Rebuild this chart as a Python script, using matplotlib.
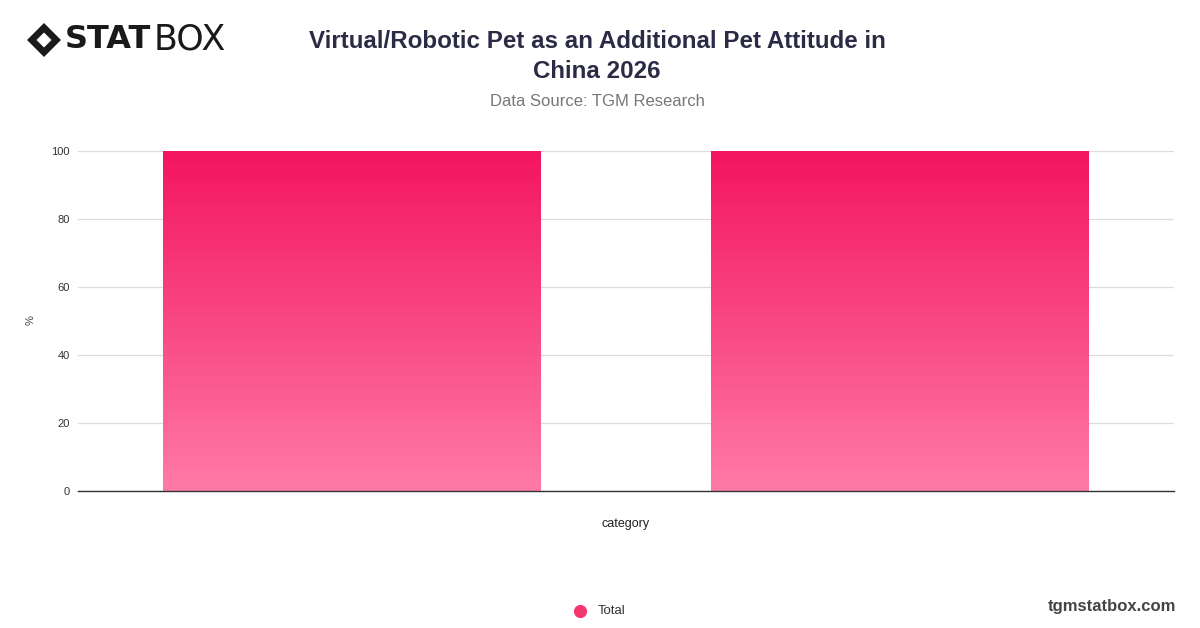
import matplotlib
matplotlib.use("Agg")
import matplotlib.pyplot as plt
import numpy as np
from matplotlib.patches import Polygon
from matplotlib.lines import Line2D
from matplotlib.colors import LinearSegmentedColormap

categories = ["Yes", "No"]
values = [100, 100]
series_name = "Total"
y_ticks = [0, 20, 40, 60, 80, 100]

plt.rcParams['font.family'] = ['Liberation Sans', 'DejaVu Sans']

fig = plt.figure(figsize=(12, 6.28), dpi=100)
ax = fig.add_axes([0.065, 0.2182, 0.913, 0.5414])

x = np.arange(len(categories))
bars = ax.bar(x, values, width=0.69, color='none', edgecolor='none', zorder=2)

# vertical gradient inside each bar
cmap = LinearSegmentedColormap.from_list("pink", ["#ff7aa8", "#f3155f"])
grad = np.linspace(0, 1, 256).reshape(-1, 1)
for b in bars:
    x0, y0 = b.get_x(), b.get_y()
    w, h = b.get_width(), b.get_height()
    im = ax.imshow(grad, cmap=cmap, origin='lower', aspect='auto',
                   extent=[x0, x0 + w, y0, y0 + h], zorder=2)
    im.set_clip_path(b)

ax.set_xlim(-0.5, len(categories) - 0.5)
ax.set_ylim(0, 100)
ax.set_yticks(y_ticks)
ax.set_xticks(x)
ax.set_xticklabels([])
ax.tick_params(axis='x', length=0)
ax.tick_params(axis='y', length=0, labelsize=8, colors='#333333', pad=6)
ax.grid(axis='y', color='#dddddd', linewidth=0.9, zorder=0)
ax.set_axisbelow(True)
for s in ['top', 'right', 'left']:
    ax.spines[s].set_visible(False)
ax.spines['bottom'].set_color('#333333')
ax.spines['bottom'].set_linewidth(1.0)
ax.spines['bottom'].set_zorder(3)
ax.set_xlabel("category", fontsize=9, color='#222222', labelpad=16)
ax.set_ylabel("%", fontsize=8, color='#444444')
ax.yaxis.set_label_coords(-(78 - 36) / 1096, (491 - 320) / 340)

# titles
fig.text(0.4975, 1 - 41 / 628, "Virtual/Robotic Pet as an Additional Pet Attitude in",
         ha='center', va='center', fontsize=17.4, fontweight='bold', color='#2b2b45')
fig.text(0.4975, 1 - 72 / 628, "China 2026",
         ha='center', va='center', fontsize=17.4, fontweight='bold', color='#2b2b45')
fig.text(0.4975, 1 - 102 / 628, "Data Source: TGM Research",
         ha='center', va='center', fontsize=12, color='#777777')

# logo
cx, cy = 44 / 1200, 1 - 40 / 628
dx, dy = 17 / 1200, 17 / 628
fig.patches.append(Polygon([[cx - dx, cy], [cx, cy + dy], [cx + dx, cy], [cx, cy - dy]],
                           closed=True, transform=fig.transFigure, facecolor='#1a1a1a'))
ix, iy = 9 / 1200, 9 / 628
fig.patches.append(Polygon([[cx - ix, cy], [cx, cy + iy], [cx + ix, cy], [cx, cy - iy]],
                           closed=True, transform=fig.transFigure, facecolor='white',
                           edgecolor='#1a1a1a', linewidth=1.5))
fig.text(65 / 1200, cy, "STAT", ha='left', va='center', fontsize=23,
         fontweight='heavy', color='#1a1a1a', family='DejaVu Sans')
fig.text(154 / 1200, cy, "BOX", ha='left', va='center', fontsize=25,
         color='#1a1a1a', family='DejaVu Sans')

# legend
fig.add_artist(Line2D([580 / 1200], [1 - 611 / 628], transform=fig.transFigure,
                      marker='o', markersize=9.5, markerfacecolor='#f5386f',
                      markeredgecolor='none', linestyle='none'))
fig.text(598 / 1200, 1 - 611 / 628, series_name, ha='left', va='center',
         fontsize=9.5, color='#333333')

fig.text(1176 / 1200, 1 - 606 / 628, "tgmstatbox.com", ha='right', va='center',
         fontsize=12, fontweight='bold', color='#444444')

fig.savefig("out.png", dpi=100, facecolor='white')
